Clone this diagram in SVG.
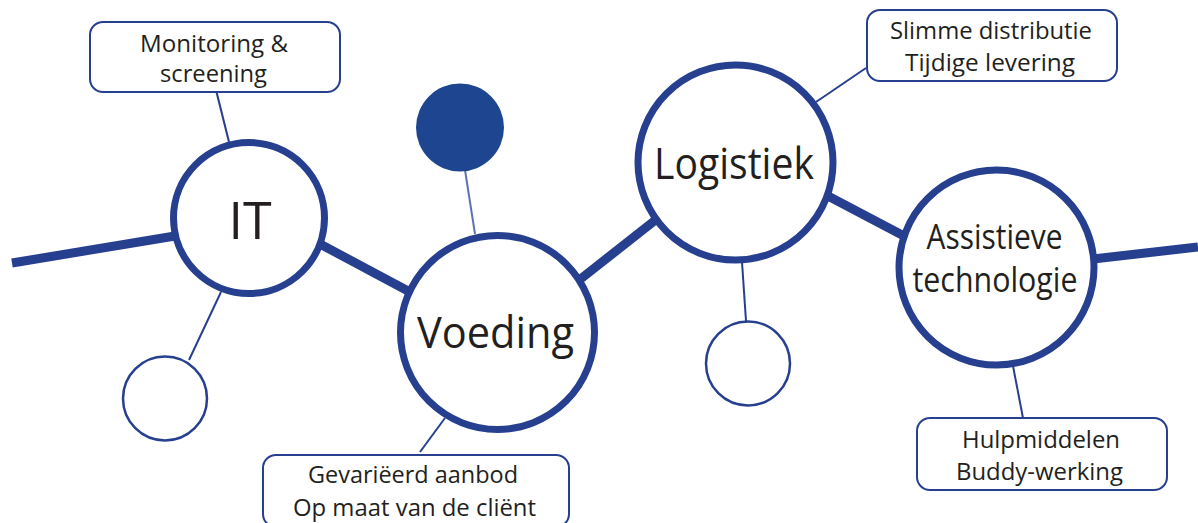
<svg xmlns="http://www.w3.org/2000/svg" width="1198" height="523" viewBox="0 0 1198 523">
<style>
.thick{stroke:#263f8f;stroke-width:9;fill:none}
.thin{stroke:#263f8f;stroke-width:2;fill:none}
.ring{fill:#fff;stroke:#263f8f;stroke-width:7}
.small{fill:#fff;stroke:#263f8f;stroke-width:2.5}
.box{fill:#fff;stroke:#263f8f;stroke-width:2}
text{font-family:"Open Sans","Noto Sans",sans-serif;fill:#231f20;text-anchor:middle}
.big{font-size:43px}
.mid{font-size:34px}
.lbl{font-size:23px}
</style>
<rect width="1198" height="523" fill="#fff"/>
<g id="connectors">
<line class="thick" x1="12" y1="263" x2="175" y2="236"/>
<line class="thick" x1="320" y1="244" x2="410" y2="292"/>
<line class="thick" x1="578" y1="281" x2="658" y2="218"/>
<line class="thick" x1="828" y1="196" x2="904" y2="236"/>
<line class="thick" x1="1093" y1="259" x2="1198" y2="247"/>
<line class="thin" x1="216" y1="90" x2="229" y2="142"/>
<line class="thin" x1="866" y1="68" x2="816" y2="102"/>
<line class="thin" x1="445" y1="418" x2="420" y2="452"/>
<line class="thin" x1="1013" y1="366" x2="1023" y2="418"/>
<line class="thin" x1="742" y1="262" x2="746" y2="321"/>
<line class="thin" x1="221" y1="292" x2="189" y2="360"/>
<line x1="465" y1="170" x2="475" y2="234" stroke="#5b72b6" stroke-width="2"/>
</g>
<g id="it">
<circle class="ring" cx="249" cy="218" r="75.5"/>
<text x="250" y="239" style="font-size:52px">IT</text>
</g>
<g id="voeding">
<circle class="ring" cx="497.5" cy="332.5" r="97"/>
<text class="big" x="495.5" y="348" textLength="157" lengthAdjust="spacingAndGlyphs">Voeding</text>
</g>
<g id="logistiek">
<circle class="ring" cx="735.5" cy="162.5" r="97.5"/>
<text class="big" x="734" y="179" textLength="160" lengthAdjust="spacingAndGlyphs">Logistiek</text>
</g>
<g id="assistieve">
<circle class="ring" cx="996.5" cy="267.5" r="97.5"/>
<text class="mid" x="994.5" y="249" textLength="136" lengthAdjust="spacingAndGlyphs">Assistieve</text>
<text class="mid" x="995" y="292" textLength="165" lengthAdjust="spacingAndGlyphs">technologie</text>
</g>
<g id="dot-filled">
<circle cx="460" cy="127.5" r="44" fill="#1e4690"/>
</g>
<g id="dot-it">
<circle class="small" cx="165" cy="398.5" r="42"/>
</g>
<g id="dot-logistiek">
<circle class="small" cx="748" cy="363.5" r="42"/>
</g>
<g id="box-monitoring">
<rect class="box" x="90" y="22" width="250" height="70" rx="13"/>
<text class="lbl" x="214" y="52" textLength="148" lengthAdjust="spacingAndGlyphs">Monitoring &amp;</text>
<text class="lbl" x="213.5" y="82" textLength="107" lengthAdjust="spacingAndGlyphs">screening</text>
</g>
<g id="box-slimme">
<rect class="box" x="867" y="10" width="250" height="71" rx="13"/>
<text class="lbl" x="991" y="39" textLength="202" lengthAdjust="spacingAndGlyphs">Slimme distributie</text>
<text class="lbl" x="990" y="71" textLength="170" lengthAdjust="spacingAndGlyphs">Tijdige levering</text>
</g>
<g id="box-gevarieerd">
<rect class="box" x="263" y="455" width="306" height="72" rx="13"/>
<text class="lbl" x="413" y="483" textLength="210" lengthAdjust="spacingAndGlyphs">Gevariëerd aanbod</text>
<text class="lbl" x="414.5" y="516" textLength="243" lengthAdjust="spacingAndGlyphs">Op maat van de cliënt</text>
</g>
<g id="box-hulpmiddelen">
<rect class="box" x="917" y="418" width="250" height="72" rx="13"/>
<text class="lbl" x="1041" y="448" textLength="158" lengthAdjust="spacingAndGlyphs">Hulpmiddelen</text>
<text class="lbl" x="1039.5" y="480" textLength="167" lengthAdjust="spacingAndGlyphs">Buddy-werking</text>
</g>
</svg>
